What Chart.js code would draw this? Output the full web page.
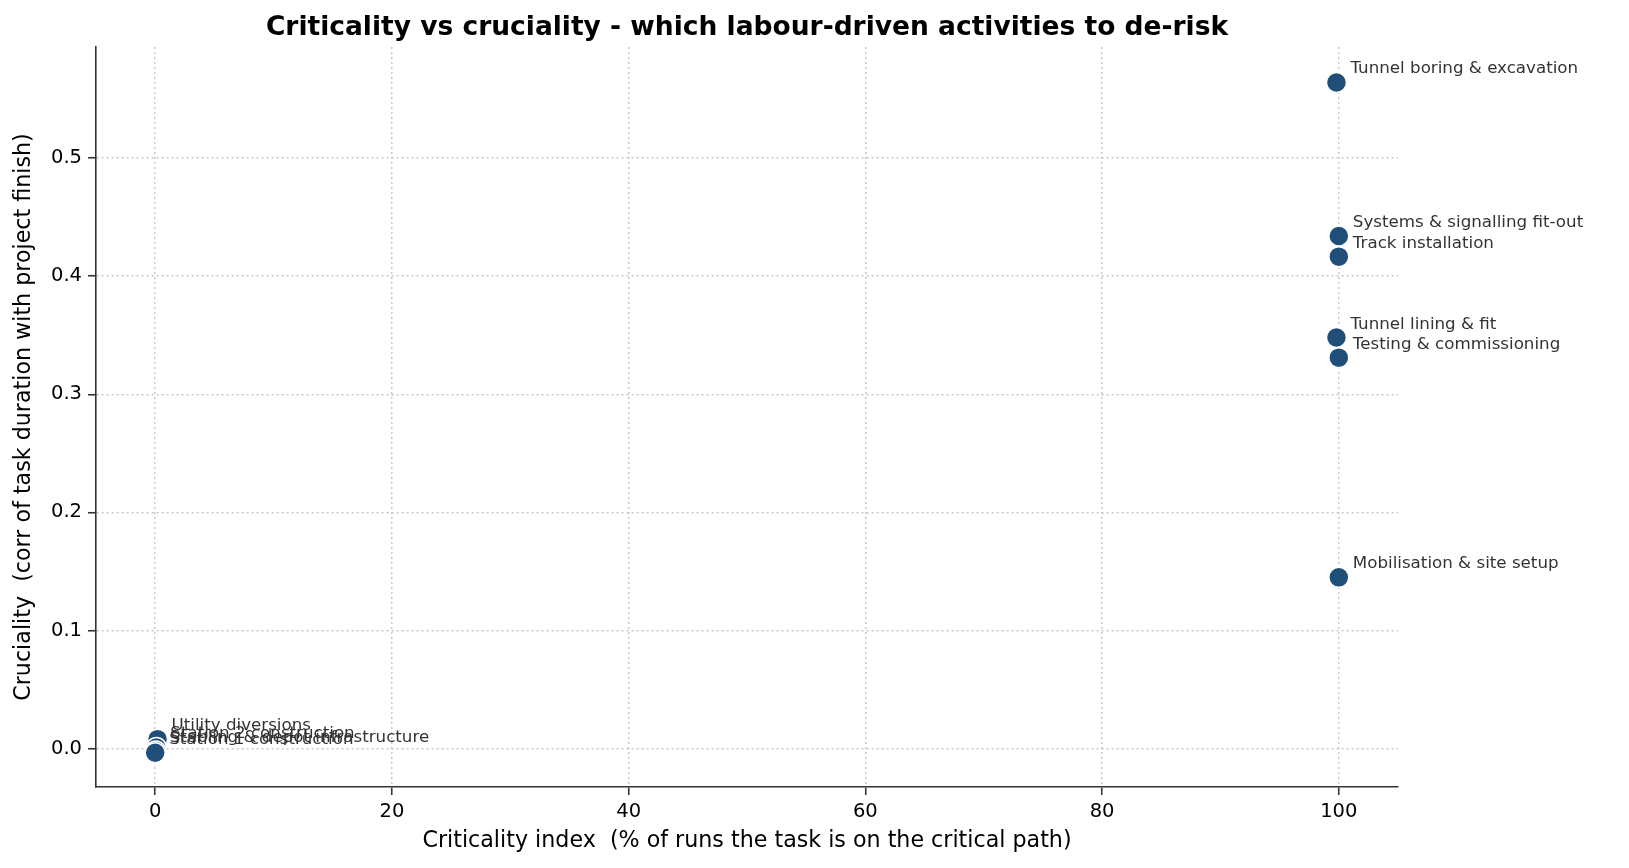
<!DOCTYPE html>
<html>
<head>
<meta charset="utf-8">
<script src="https://cdn.jsdelivr.net/npm/chart.js@4"></script>
<style>
    html, body { margin: 0; padding: 0; background: #fff; }
    canvas { display: block; }
</style>
</head>
<body>
<canvas id="myChart" width="1629" height="868"></canvas>
<script>
const activities = [
    'Tunnel boring & excavation',
    'Systems & signalling fit-out',
    'Track installation',
    'Tunnel lining & fit',
    'Testing & commissioning',
    'Mobilisation & site setup',
    'Utility diversions',
    'Station 2 construction',
    'Stabling & depot infrastructure',
    'Station 1 construction',
];

const criticality = [99.8, 100, 100, 99.8, 100, 100, 0.2, 0.1, 0.05, 0];
const cruciality = [0.564, 0.434, 0.4165, 0.348, 0.331, 0.145, 0.008, 0.001, -0.002, -0.0035];

const xTicks = [0, 20, 40, 60, 80, 100];
const yTicks = [0.0, 0.1, 0.2, 0.3, 0.4, 0.5];

const font = "'DejaVu Sans', sans-serif";

const points = criticality.map((x, i) => ({ x: x, y: cruciality[i] }));

// labels next to each marker
const pointLabels = {
    id: 'pointLabels',
    afterDatasetsDraw(chart) {
        const ctx = chart.ctx;
        const meta = chart.getDatasetMeta(0);
        ctx.save();
        ctx.font = '16.7px ' + font;
        ctx.fillStyle = '#333333';
        ctx.textBaseline = 'alphabetic';
        ctx.textAlign = 'left';
        meta.data.forEach((pt, i) => {
            ctx.fillText(activities[i], pt.x + 14, pt.y - 9);
        });
        ctx.restore();
    }
};

const titlePlugin = {
    id: 'titlePlugin',
    afterDraw(chart) {
        const ctx = chart.ctx;
        const area = chart.chartArea;
        ctx.save();
        ctx.font = 'bold 26.5px ' + font;
        ctx.fillStyle = '#000';
        ctx.textAlign = 'center';
        ctx.textBaseline = 'middle';
        ctx.fillText('Criticality vs cruciality - which labour-driven activities to de-risk', (area.left + area.right) / 2, 28);
        ctx.restore();
    }
};

const data = {
    datasets: [{
        data: points,
        backgroundColor: '#1f4e79',
        borderColor: '#ffffff',
        borderWidth: 1.5,
        pointRadius: 10,
        pointHoverRadius: 10,
    }]
};

const gridOpts = {
    color: '#c8c8c8',
    lineWidth: 1.5,
    tickColor: '#333333',
    tickWidth: 1.6,
    tickLength: 8,
};

const borderOpts = {
    color: '#333333',
    width: 1.6,
    dash: [2, 3],
};

const options = {
    responsive: false,
    animation: false,
    devicePixelRatio: 1,
    layout: {
        padding: { top: 47, right: 231, bottom: 0, left: 0 }
    },
    plugins: {
        legend: { display: false },
        title: { display: false },
        tooltip: { enabled: false }
    },
    scales: {
        x: {
            type: 'linear',
            min: -5,
            max: 105,
            afterFit: (scale) => { scale.height = 81; },
            afterBuildTicks: (scale) => { scale.ticks = xTicks.map(v => ({ value: v })); },
            ticks: {
                font: { family: font, size: 19.5 },
                color: '#000',
                padding: 5,
            },
            grid: gridOpts,
            border: borderOpts,
            title: {
                display: true,
                text: 'Criticality index  (% of runs the task is on the critical path)',
                font: { family: font, size: 22.2 },
                color: '#000',
                padding: { top: 0, bottom: 13 }
            }
        },
        y: {
            type: 'linear',
            min: -0.0325,
            max: 0.594,
            afterFit: (scale) => { scale.width = 96; },
            afterBuildTicks: (scale) => { scale.ticks = yTicks.map(v => ({ value: v })); },
            ticks: {
                font: { family: font, size: 19.5 },
                color: '#000',
                padding: 6,
                callback: (v) => v.toFixed(1),
            },
            grid: gridOpts,
            border: borderOpts,
            title: {
                display: true,
                text: 'Cruciality  (corr of task duration with project finish)',
                font: { family: font, size: 22.2 },
                color: '#000',
                padding: { top: 11, bottom: 0 }
            }
        }
    }
};

const myChart = new Chart(
    document.getElementById('myChart'),
    {
        type: 'scatter',
        data,
        options,
        plugins: [pointLabels, titlePlugin]
    }
);
</script>
</body>
</html>
